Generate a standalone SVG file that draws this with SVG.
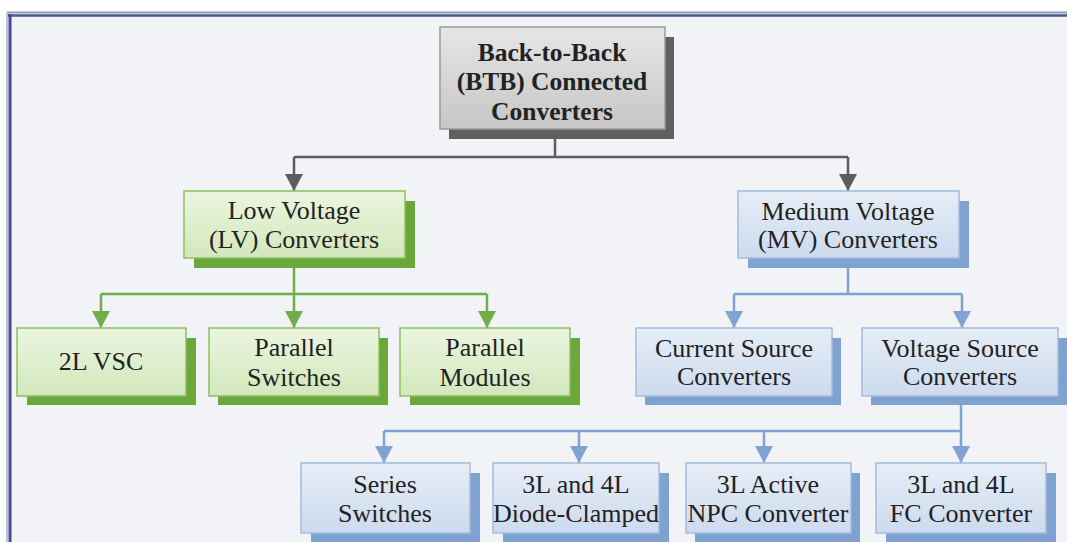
<svg xmlns="http://www.w3.org/2000/svg" width="1067" height="542" viewBox="0 0 1067 542">
<style>
.t{font-family:"Liberation Serif","Times New Roman",serif;font-size:26px;fill:#222222;text-anchor:middle}
.b{font-weight:bold;font-size:25.5px}
.gy{fill:url(#gGrey);stroke:#9a9a9a;stroke-width:1.5}
.gn{fill:url(#gGreen);stroke:#8cc063;stroke-width:1.5}
.bl{fill:url(#gBlue);stroke:#a3bcdc;stroke-width:1.5}
.sgy{fill:#5f5f5f}
.sgn{fill:#6aa83c}
.sbl{fill:#7fa2d0}
.cg{stroke:#5d5d5d;stroke-width:2.5;fill:none}
.cn{stroke:#72ad4a;stroke-width:2.5;fill:none}
.cb{stroke:#7fa3d2;stroke-width:2.5;fill:none}
</style>
<defs>
<linearGradient id="gGrey" x1="0" y1="0" x2="0" y2="1"><stop offset="0" stop-color="#e6e6e6"/><stop offset="1" stop-color="#c6c6c6"/></linearGradient>
<linearGradient id="gGreen" x1="0" y1="0" x2="0" y2="1"><stop offset="0" stop-color="#ebf5e0"/><stop offset="1" stop-color="#d2e8bb"/></linearGradient>
<linearGradient id="gBlue" x1="0" y1="0" x2="0" y2="1"><stop offset="0" stop-color="#e6edf7"/><stop offset="1" stop-color="#cddbee"/></linearGradient>
<marker id="aGrey" markerUnits="userSpaceOnUse" markerWidth="18" markerHeight="18" refX="17" refY="9" orient="auto"><path d="M0,0 L17,9 L0,18 z" fill="#5d5d5d"/></marker>
<marker id="aGreen" markerUnits="userSpaceOnUse" markerWidth="18" markerHeight="18" refX="17" refY="9" orient="auto"><path d="M0,0 L17,9 L0,18 z" fill="#72ad4a"/></marker>
<marker id="aBlue" markerUnits="userSpaceOnUse" markerWidth="18" markerHeight="18" refX="17" refY="9" orient="auto"><path d="M0,0 L17,9 L0,18 z" fill="#7fa3d2"/></marker>
</defs>
<rect x="0" y="0" width="1067" height="542" fill="#ffffff"/>
<rect x="9" y="15" width="1058" height="527" fill="#f1f3f7"/>
<line x1="7" y1="12.5" x2="1067" y2="12.5" stroke="#8a9bb5" stroke-width="2"/>
<line x1="7" y1="15.5" x2="1067" y2="15.5" stroke="#4a5590" stroke-width="2.5"/>
<line x1="7" y1="13" x2="7" y2="542" stroke="#b8c0e6" stroke-width="2"/>
<line x1="10" y1="14" x2="10" y2="542" stroke="#4a4a90" stroke-width="3"/>

<g id="connectors">
<path class="cg" d="M555,130 V157 M294,157 H848"/>
<path class="cg" d="M294,157 V191" marker-end="url(#aGrey)"/>
<path class="cg" d="M848,157 V191" marker-end="url(#aGrey)"/>
<path class="cn" d="M294,268 V294 M101,294 H487"/>
<path class="cn" d="M101,294 V328" marker-end="url(#aGreen)"/>
<path class="cn" d="M294,294 V328" marker-end="url(#aGreen)"/>
<path class="cn" d="M487,294 V328" marker-end="url(#aGreen)"/>
<path class="cb" d="M848,268 V294 M734,294 H962"/>
<path class="cb" d="M734,294 V328" marker-end="url(#aBlue)"/>
<path class="cb" d="M962,294 V328" marker-end="url(#aBlue)"/>
<path class="cb" d="M961,405 V431 M384,431 H961"/>
<path class="cb" d="M384,431 V463" marker-end="url(#aBlue)"/>
<path class="cb" d="M579,431 V463" marker-end="url(#aBlue)"/>
<path class="cb" d="M764,431 V463" marker-end="url(#aBlue)"/>
<path class="cb" d="M961,431 V463" marker-end="url(#aBlue)"/>
</g>

<g id="btb">
<rect class="sgy" x="449" y="37" width="225" height="102"/>
<rect class="gy" x="440" y="27" width="225" height="102"/>
<text class="t b" x="552" y="61">Back-to-Back</text>
<text class="t b" x="552" y="90">(BTB) Connected</text>
<text class="t b" x="552" y="120">Converters</text>
</g>

<g id="lv">
<rect class="sgn" x="194" y="201" width="221" height="67"/>
<rect class="gn" x="184" y="191" width="221" height="67"/>
<text class="t" x="294" y="219">Low Voltage</text>
<text class="t" x="294" y="248">(LV) Converters</text>
</g>

<g id="mv">
<rect class="sbl" x="748" y="201" width="221" height="67"/>
<rect class="bl" x="738" y="191" width="221" height="67"/>
<text class="t" x="848" y="220">Medium Voltage</text>
<text class="t" x="848" y="248">(MV) Converters</text>
</g>

<g id="vsc2l">
<rect class="sgn" x="27" y="338" width="169" height="67"/>
<rect class="gn" x="17" y="328" width="169" height="68"/>
<text class="t" x="101" y="370">2L VSC</text>
</g>

<g id="pswitches">
<rect class="sgn" x="218" y="338" width="170" height="67"/>
<rect class="gn" x="209" y="328" width="170" height="68"/>
<text class="t" x="294" y="356">Parallel</text>
<text class="t" x="294" y="386">Switches</text>
</g>

<g id="pmodules">
<rect class="sgn" x="410" y="338" width="170" height="67"/>
<rect class="gn" x="400" y="328" width="170" height="68"/>
<text class="t" x="485" y="356">Parallel</text>
<text class="t" x="485" y="386">Modules</text>
</g>

<g id="csc">
<rect class="sbl" x="645" y="338" width="196" height="67"/>
<rect class="bl" x="636" y="328" width="196" height="68"/>
<text class="t" x="734" y="357">Current Source</text>
<text class="t" x="734" y="385">Converters</text>
</g>

<g id="vscs">
<rect class="sbl" x="871" y="338" width="196" height="67"/>
<rect class="bl" x="862" y="328" width="196" height="68"/>
<text class="t" x="960" y="357">Voltage Source</text>
<text class="t" x="960" y="385">Converters</text>
</g>

<g id="series">
<rect class="sbl" x="311" y="473" width="169" height="70"/>
<rect class="bl" x="301" y="463" width="169" height="70"/>
<text class="t" x="385" y="493">Series</text>
<text class="t" x="385" y="522">Switches</text>
</g>

<g id="diode">
<rect class="sbl" x="503" y="473" width="166" height="70"/>
<rect class="bl" x="493" y="463" width="166" height="70"/>
<text class="t" x="576" y="493">3L and 4L</text>
<text class="t" x="576" y="522">Diode-Clamped</text>
</g>

<g id="anpc">
<rect class="sbl" x="695" y="473" width="165" height="70"/>
<rect class="bl" x="686" y="463" width="165" height="70"/>
<text class="t" x="768" y="493">3L Active</text>
<text class="t" x="768" y="522">NPC Converter</text>
</g>

<g id="fc">
<rect class="sbl" x="886" y="473" width="170" height="70"/>
<rect class="bl" x="876" y="463" width="170" height="70"/>
<text class="t" x="961" y="493">3L and 4L</text>
<text class="t" x="961" y="522">FC Converter</text>
</g>
</svg>
